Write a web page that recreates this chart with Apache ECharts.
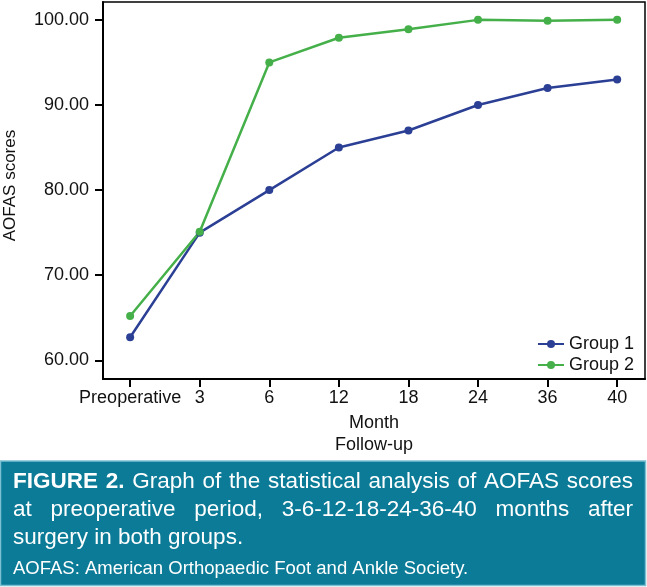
<!DOCTYPE html>
<html><head><meta charset="utf-8">
<script src="https://cdn.jsdelivr.net/npm/echarts@6/dist/echarts.min.js"></script>
<style>html,body{margin:0;padding:0;background:#fff}#c{width:647px;height:587px}</style>
</head><body><div id="c"></div>
<script>
const categories = ['Preoperative','3','6','12','18','24','36','40'];
const group1 = [62.7, 75.0, 80.0, 85.0, 87.0, 90.0, 92.0, 93.0];
const group2 = [65.2, 75.1, 95.0, 97.9, 98.9, 100.0, 99.9, 100.0];
const yTicks = [60, 70, 80, 90, 100];
const seriesNames = ['Group 1','Group 2'];

const FONT = '"Liberation Sans", Arial, Helvetica, sans-serif';
const blue = '#2b3f95', green = '#45b04a';
const xIdx = categories.map((c,i)=>i);

const chart = echarts.init(document.getElementById('c'), null, {renderer:'canvas'});

// caption justification
const ctx = document.createElement('canvas').getContext('2d');
function measure(t, font){ ctx.font = font; return ctx.measureText(t).width; }
function justifyLine(words, fonts, y, x0, x1){
  const widths = words.map((w,i)=>measure(w, fonts[i]));
  const total = widths.reduce((a,b)=>a+b,0);
  const gap = (x1-x0-total)/(words.length-1);
  let x = x0; const out=[];
  words.forEach((w,i)=>{
    out.push({type:'text', left:x, top:y, style:{text:w, fill:'#fff', font:fonts[i]}});
    x += widths[i]+gap;
  });
  return out;
}
const capSize = 22.5;
const fN = `${capSize}px ${FONT}`, fB = `bold ${capSize}px ${FONT}`;
const line1 = ['FIGURE','2.','Graph','of','the','statistical','analysis','of','AOFAS','scores'];
const line1f = line1.map((w,i)=> i<2 ? fB : fN);
const line2 = ['at','preoperative','period,','3-6-12-18-24-36-40','months','after'];
const capElems = [
  {type:'rect', shape:{x:0.5,y:461,width:645,height:124.5}, style:{fill:'#0b7b97', stroke:'#7cc0d4', lineWidth:1.5}},
  ...justifyLine(line1, line1f, 470, 13, 633),
  ...justifyLine(line2, line2.map(()=>fN), 498, 13, 633),
  {type:'text', left:13, top:526, style:{text:'surgery in both groups.', fill:'#fff', font:fN}},
  {type:'text', left:13, top:559, style:{text:'AOFAS: American Orthopaedic Foot and Ankle Society.', fill:'#fff', font:`18.5px ${FONT}`}}
];

chart.setOption({
  animation:false,
  backgroundColor:'#fff',
  textStyle:{fontFamily:FONT},
  grid:{left:103, right:2, top:2, bottom:208, show:true, borderColor:'#000', borderWidth:1.5,
        containLabel:false, outerBoundsMode:'none'},
  legend:{
    left:537, top:335, padding:0, orient:'vertical', itemGap:3, itemWidth:26, itemHeight:10,
    textStyle:{fontSize:18, color:'#111', fontFamily:FONT},
    data:seriesNames
  },
  xAxis:{
    type:'value', min:-0.39, max:7.4,
    name:'Month\nFollow-up', nameLocation:'middle', nameGap:31,
    nameTextStyle:{fontSize:18, color:'#111', lineHeight:22},
    axisLine:{show:true, onZero:false, lineStyle:{color:'#000', width:2}},
    axisTick:{show:true, length:8, lineStyle:{color:'#000', width:2}, customValues:xIdx},
    axisLabel:{fontSize:18, color:'#111', margin:10, customValues:xIdx, formatter:v=>categories[Math.round(v)]},
    splitLine:{show:false}
  },
  yAxis:{
    type:'value', min:57.8, max:102.1,
    name:'AOFAS scores', nameLocation:'middle', nameGap:84, nameRotate:90,
    nameTextStyle:{fontSize:17, color:'#111', padding:[0,0,0,10]},
    axisLine:{show:true, onZero:false, lineStyle:{color:'#000', width:2}},
    axisTick:{show:true, length:8, lineStyle:{color:'#000', width:2}, customValues:yTicks},
    axisLabel:{fontSize:18, color:'#111', margin:14, customValues:yTicks, formatter:v=>v.toFixed(2)},
    splitLine:{show:false}
  },
  series:[
    {name:seriesNames[0], type:'line', data:group1.map((v,i)=>[i,v]), color:blue,
     symbol:'circle', symbolSize:8, lineStyle:{width:2.5, color:blue}, itemStyle:{color:blue}},
    {name:seriesNames[1], type:'line', data:group2.map((v,i)=>[i,v]), color:green,
     symbol:'circle', symbolSize:8, lineStyle:{width:2.5, color:green}, itemStyle:{color:green}}
  ],
  graphic:capElems
});
</script></body></html>
